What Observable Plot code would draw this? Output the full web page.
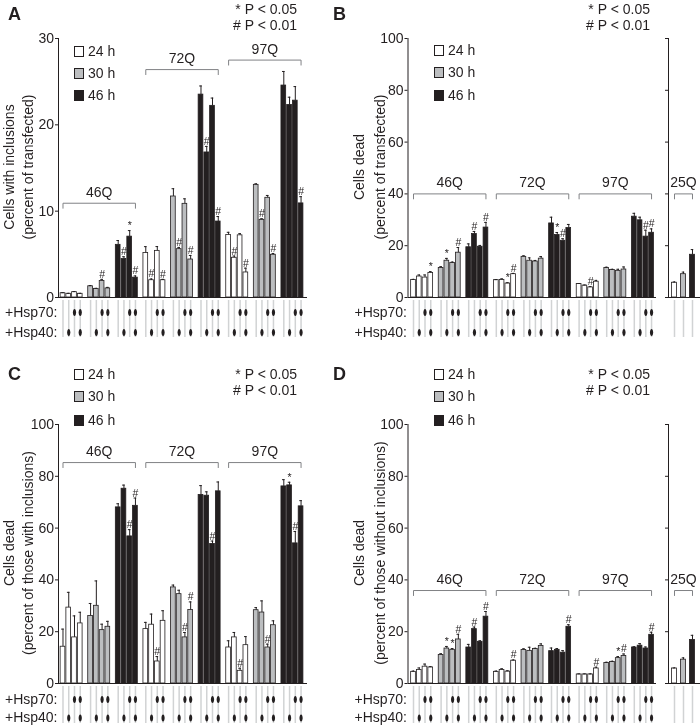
<!DOCTYPE html>
<html><head><meta charset="utf-8">
<script src="https://cdn.jsdelivr.net/npm/d3@7"></script>
<script src="https://cdn.jsdelivr.net/npm/@observablehq/plot@0.6"></script>
<style>
body{margin:0;background:#fff;}
#root{position:relative;width:700px;height:727px;overflow:hidden;font-family:"Liberation Sans",Arial,sans-serif;color:#231f20;}
#root svg{will-change:transform;}
.txt{position:absolute;font-size:14px;white-space:nowrap;line-height:1;}
.ylab{position:absolute;font-size:14px;white-space:nowrap;line-height:1;transform:translate(-50%,-50%) rotate(-90deg);}
.sw{position:absolute;width:8px;height:9px;border:1px solid #231f20;}
</style></head><body><div id="root"></div>
<script>
// ---------- categories ----------
const groups = ["46Q", "72Q", "97Q"];
const times = ["24 h", "30 h", "46 h"];
const hsp70 = [0, 0, 1, 1];   // condition order within each time block
const hsp40 = [0, 1, 0, 1];
const controlGroup = "25Q";
const yTicksA = 3, yTicksB = 5;

// ---------- Panel A: cells with inclusions (% of transfected) ----------
const aValues = [0.5,0.43,0.62,0.43, 1.3,1.0,1.9,1.05, 6.1,4.45,7.05,2.3,
                 5.15,2.0,5.4,2.0, 11.7,5.6,10.85,4.4, 23.5,16.8,22.2,8.8,
                 7.25,4.6,7.2,2.9, 13.05,9.0,11.55,4.95, 24.55,22.3,22.8,10.9];
const aErrors = [0.05,0.05,0.06,0.05, 0.08,0.06,0.2,0.12, 0.5,0.27,0.7,0.2,
                 0.74,0.15,0.5,0.1, 0.9,0.2,0.58,0.47, 1.0,0.7,0.9,0.58,
                 0.3,0.2,0.2,0.5, 0.12,0.12,0.27,0.15, 1.63,0.9,1.63,0.78];
const aMarks = ["","","","", "","","#","", "","#","*","#",
                "","#","","#", "","#","","#", "","#","","#",
                "","#","","#", "","#","","#", "","","","#"];

// ---------- Panel B: cells dead (% of transfected) ----------
const bValues = [6.8,8.1,7.7,9.5, 11.4,14.2,13.3,17.3, 19.4,24.5,19.6,27.0,
                 6.7,6.8,5.4,9.0, 15.7,14.2,13.9,15.0, 28.6,24.1,21.9,26.8,
                 5.2,4.6,3.9,6.1, 11.4,10.6,10.3,10.8, 31.2,29.8,23.5,25.0];
const bErrors = [0.2,0.6,1.0,0.5, 0.5,0.9,0.4,2.0, 1.3,1.0,0.5,2.0,
                 0.2,0.4,0.3,0.3, 0.4,1.1,0.4,0.8, 2.4,1.0,0.8,1.4,
                 0.2,0.2,0.3,0.5, 0.3,0.3,0.6,1.0, 1.3,1.2,2.5,1.5];
const bMarks = ["","","","*", "","*","","#", "","#","","#",
                "","","*","#", "","","","", "","*","#","",
                "","","#","", "","","","", "","","#","#"];
const bControl = [5.7, 9.0, 16.5];
const bControlErr = [0.3, 0.8, 2.0];

// ---------- Panel C: cells dead (% of those with inclusions) ----------
const cValues = [14.2,29.3,17.8,23.2, 26.1,30.0,20.6,21.9, 68.0,75.2,56.8,68.6,
                 21.0,22.7,8.5,24.2, 37.1,34.5,17.8,28.4, 72.8,72.5,53.9,74.2,
                 13.9,17.8,4.9,14.8, 28.3,27.4,13.9,22.5, 76.1,76.5,54.1,68.4];
const cErrors = [6.8,5.9,8.3,4.3, 4.8,9.6,2.3,2.1, 1.4,1.4,2.6,3.0,
                 2.6,4.1,1.9,3.9, 0.9,1.5,1.9,3.1, 3.6,1.5,1.1,3.6,
                 2.6,1.9,1.0,3.3, 1.0,4.5,1.3,1.7, 2.6,1.2,4.6,2.2];
const cMarks = ["","","","", "","","","", "","","#","#",
                "","","#","", "","","#","#", "","","#","",
                "","","#","", "","","#","", "","*","#",""];

// ---------- Panel D: cells dead (% of those without inclusions) ----------
const dValues = [4.5,5.2,6.5,6.2, 11.0,13.5,13.0,17.0, 13.9,21.0,16.1,25.8,
                 4.5,5.2,4.6,8.8, 12.9,12.6,13.3,14.5, 12.5,13.0,11.9,21.9,
                 3.5,3.5,3.5,5.8, 7.9,8.3,9.8,10.6, 13.9,14.6,13.5,18.8];
const dErrors = [0.3,0.8,1.0,0.3, 0.5,0.8,0.5,2.0, 1.2,0.8,0.4,2.0,
                 0.3,0.5,0.3,0.3, 0.5,1.4,0.3,0.8, 1.2,0.5,0.8,0.8,
                 0.2,0.2,0.2,0.5, 0.3,0.3,0.6,0.8, 0.3,0.8,0.6,1.0];
const dMarks = ["","","","", "","*","*","#", "","#","","#",
                "","","","#", "","","","", "","","","#",
                "","","","#", "","","*","#", "","","","#"];
const dControl = [5.8, 9.2, 16.8];
const dControlErr = [0.2, 0.7, 1.8];

// ---------- styles ----------
const INK = "#231f20";
const fills = ["#ffffff", "#bcbec0", "#231f20"];
const BRACKET = "#808285";
const GUIDE = "#d1d3d4";
const FONT = "Liberation Sans, Arial, sans-serif";

const ellipse = {draw(ctx) {
  const rx = 1.6, ry = 3.5, k = 0.5523;
  ctx.moveTo(0, -ry);
  ctx.bezierCurveTo(k*rx, -ry, rx, -k*ry, rx, 0);
  ctx.bezierCurveTo(rx, k*ry, k*rx, ry, 0, ry);
  ctx.bezierCurveTo(-k*rx, ry, -rx, k*ry, -rx, 0);
  ctx.bezierCurveTo(-rx, -k*ry, -k*rx, -ry, 0, -ry);
  ctx.closePath();
}};

function buildRows(values, errors, marks) {
  const out = []; let i = 0;
  groups.forEach((g, gi) => times.forEach((t, ti) => hsp70.forEach((_, c) => {
    out.push({group: g, time: ti, cond: c, slot: (gi*3 + ti)*4.8 + c,
              value: values[i], err: errors[i], mark: marks[i]});
    i++;
  })));
  return out;
}

const root = document.getElementById("root");

function mainPanel(o) {
  const rows = buildRows(o.values, o.errors, o.marks);
  const plotH = o.h - o.mt - o.mb;
  const u = plotH / o.ymax;               // px per data unit
  const px = p => p / u;
  const xmin = o.xdom[0];
  const brackets = groups.map((g, gi) => ({label: g, x1: gi*3*4.8, x2: (gi*3+2)*4.8 + 3, level: o.levels[gi]}));
  const bpts = brackets.flatMap(b => [
    {z: b.label, x: b.x1, y: b.level - px(5)}, {z: b.label, x: b.x1, y: b.level},
    {z: b.label, x: b.x2, y: b.level}, {z: b.label, x: b.x2, y: b.level - px(5)}]);
  const hw = 0.41, cw = 0.23;
  const svg = Plot.plot({
    width: o.w, height: o.h, marginLeft: o.ml, marginRight: o.mr, marginTop: o.mt, marginBottom: o.mb,
    x: {domain: o.xdom, axis: null},
    y: {domain: [0, o.ymax], ticks: o.ticks, tickSize: 3, tickPadding: 1.5, label: null},
    style: {fontFamily: FONT, fontSize: "14px", color: INK, background: "transparent", overflow: "visible"},
    marks: [
      Plot.ruleX(rows, {x: "slot", y1: () => px(-3), y2: () => px(-40), stroke: GUIDE, strokeWidth: 1.5}),
      Plot.dot(rows.filter(d => hsp70[d.cond]), {x: "slot", y: () => px(-o.row1), symbol: ellipse, r: 3, fill: INK, stroke: "none"}),
      Plot.dot(rows.filter(d => hsp40[d.cond]), {x: "slot", y: () => px(-o.row2), symbol: ellipse, r: 3, fill: INK, stroke: "none"}),
      Plot.text(["+Hsp70:"], {x: () => xmin, y: () => px(-o.row1), text: d => d, textAnchor: "end", dx: -1, fill: INK}),
      Plot.text(["+Hsp40:"], {x: () => xmin, y: () => px(-o.row2), text: d => d, textAnchor: "end", dx: -1, fill: INK}),
      Plot.rect(rows, {x1: d => d.slot - hw, x2: d => d.slot + hw, y1: () => 0, y2: "value",
                       fill: d => fills[d.time], stroke: INK, strokeWidth: 0.8}),
      Plot.ruleX(rows, {x: "slot", y1: "value", y2: d => d.value + d.err, stroke: INK, strokeWidth: 1}),
      Plot.ruleY(rows, {y: d => d.value + d.err, x1: d => d.slot - cw, x2: d => d.slot + cw, stroke: INK, strokeWidth: 1}),
      Plot.text(rows.filter(d => d.mark), {x: "slot", y: d => d.value + d.err, text: "mark", dy: -1.5, lineAnchor: "bottom",
                fontSize: 10.5, fill: INK}),
      Plot.line(bpts, {x: "x", y: "y", z: "z", stroke: BRACKET, strokeWidth: 1}),
      Plot.text(brackets, {x: d => (d.x1 + d.x2)/2, y: d => d.level + px(11), text: "label", lineAnchor: "middle", fill: INK}),
      Plot.ruleY([0], {stroke: INK, strokeWidth: 1}),
      Plot.ruleX([xmin], {stroke: INK, strokeWidth: 1})
    ]
  });
  svg.style.position = "absolute";
  svg.style.left = o.left + "px";
  svg.style.top = o.top + "px";
  root.appendChild(svg);
}

function controlPanel(o) {
  const rows = o.values.map((v, i) => ({slot: i, time: i, value: v, err: o.errors[i]}));
  const plotH = o.h - o.mt - o.mb;
  const u = plotH / o.ymax;
  const px = p => p / u;
  const xmin = o.xdom[0];
  const bpts = [{x: 0, y: o.level - px(5)}, {x: 0, y: o.level}, {x: 2, y: o.level}, {x: 2, y: o.level - px(5)}];
  const hw = 0.28, cw = 0.14;
  const svg = Plot.plot({
    width: o.w, height: o.h, marginLeft: o.ml, marginRight: o.mr, marginTop: o.mt, marginBottom: o.mb,
    x: {domain: o.xdom, axis: null},
    y: {domain: [0, o.ymax], ticks: o.ticks, tickSize: 3, tickFormat: () => "", label: null},
    style: {fontFamily: FONT, fontSize: "14px", color: INK, background: "transparent", overflow: "visible"},
    marks: [
      Plot.ruleX(rows, {x: "slot", y1: () => px(-3), y2: () => px(-40), stroke: GUIDE, strokeWidth: 1.5}),
      Plot.rect(rows, {x1: d => d.slot - hw, x2: d => d.slot + hw, y1: () => 0, y2: "value",
                       fill: d => fills[d.time], stroke: INK, strokeWidth: 0.8}),
      Plot.ruleX(rows, {x: "slot", y1: "value", y2: d => d.value + d.err, stroke: INK, strokeWidth: 1}),
      Plot.ruleY(rows, {y: d => d.value + d.err, x1: d => d.slot - cw, x2: d => d.slot + cw, stroke: INK, strokeWidth: 1}),
      Plot.line(bpts, {x: "x", y: "y", stroke: BRACKET, strokeWidth: 1}),
      Plot.text([controlGroup], {x: () => 1, y: () => o.level + px(11), text: d => d, lineAnchor: "middle", fill: INK}),
      Plot.ruleY([0], {stroke: INK, strokeWidth: 1}),
      Plot.ruleX([xmin], {stroke: INK, strokeWidth: 1})
    ]
  });
  svg.style.position = "absolute";
  svg.style.left = o.left + "px";
  svg.style.top = o.top + "px";
  root.appendChild(svg);
}

// ---------- draw panels ----------
mainPanel({values: aValues, errors: aErrors, marks: aMarks, ymax: 30, ticks: yTicksA,
  left: 0, top: 0, w: 350, h: 360, ml: 58, mr: 43, mt: 38, mb: 63, xdom: [-0.78, 42.52],
  levels: [10.92, 26.4, 27.5], row1: 15, row2: 35});
mainPanel({values: bValues, errors: bErrors, marks: bMarks, ymax: 100, ticks: yTicksB,
  left: 350, top: 0, w: 310, h: 360, ml: 57.5, mr: 4, mt: 38, mb: 63, xdom: [-0.957, 42.26],
  levels: [40, 40, 40], row1: 15, row2: 35});
controlPanel({values: bControl, errors: bControlErr, ymax: 100, ticks: yTicksB,
  left: 650, top: 0, w: 50, h: 360, ml: 18, mr: 0, mt: 38, mb: 63, xdom: [-0.667, 2.89], level: 40});
mainPanel({values: cValues, errors: cErrors, marks: cMarks, ymax: 100, ticks: yTicksB,
  left: 0, top: 360, w: 350, h: 367, ml: 58, mr: 43, mt: 64, mb: 44, xdom: [-0.78, 42.52],
  levels: [85.3, 85.3, 85.3], row1: 16, row2: 34.5});
mainPanel({values: dValues, errors: dErrors, marks: dMarks, ymax: 100, ticks: yTicksB,
  left: 350, top: 360, w: 310, h: 367, ml: 57.5, mr: 4, mt: 64, mb: 44, xdom: [-0.957, 42.26],
  levels: [35.9, 35.9, 35.9], row1: 16, row2: 34.5});
controlPanel({values: dControl, errors: dControlErr, ymax: 100, ticks: yTicksB,
  left: 650, top: 360, w: 50, h: 367, ml: 18, mr: 0, mt: 64, mb: 44, xdom: [-0.667, 2.89], level: 35.9});

// ---------- annotations ----------
function addText(str, x, cy, opts = {}) {
  const d = document.createElement("div");
  d.className = "txt";
  d.textContent = str;
  const size = opts.size || 14;
  d.style.fontSize = size + "px";
  d.style.left = x + "px";
  d.style.top = (cy - 0.4885*size) + "px";
  if (opts.anchor === "end") d.style.transform = "translateX(-100%)";
  if (opts.bold) d.style.fontWeight = "bold";
  root.appendChild(d);
}
function addYLabel(str, cx, cy) {
  const d = document.createElement("div");
  d.className = "ylab";
  d.textContent = str;
  d.style.left = cx + "px";
  d.style.top = cy + "px";
  root.appendChild(d);
}
function addLegend(x, cys) {
  times.forEach((t, i) => {
    const s = document.createElement("div");
    s.className = "sw";
    s.style.left = x + "px";
    s.style.top = (cys[i] - 5.5) + "px";
    s.style.background = fills[i];
    root.appendChild(s);
    addText(t, x + 14, cys[i]);
  });
}

addText("A", 8, 14, {size: 18, bold: true});
addText("B", 333, 14, {size: 18, bold: true});
addText("C", 8, 374, {size: 18, bold: true});
addText("D", 333, 374, {size: 18, bold: true});

addText("* P < 0.05", 297, 9, {anchor: "end"});
addText("# P < 0.01", 297, 25, {anchor: "end"});
addText("* P < 0.05", 650, 9, {anchor: "end"});
addText("# P < 0.01", 650, 25, {anchor: "end"});
addText("* P < 0.05", 297, 374, {anchor: "end"});
addText("# P < 0.01", 297, 390, {anchor: "end"});
addText("* P < 0.05", 650, 374, {anchor: "end"});
addText("# P < 0.01", 650, 390, {anchor: "end"});

addLegend(74, [51, 73, 95]);
addLegend(434, [50, 72, 95]);
addLegend(74, [374, 396, 420]);
addLegend(434, [374, 396, 420]);

addYLabel("Cells with inclusions", 9, 167);
addYLabel("(percent of transfected)", 28, 167);
addYLabel("Cells dead", 359, 167);
addYLabel("(percent of transfected)", 380, 167);
addYLabel("Cells dead", 9, 553);
addYLabel("(percent of those with inclusions)", 28, 553);
addYLabel("Cells dead", 359, 553);
addYLabel("(percent of those without inclusions)", 380, 553);
</script>
</body></html>
